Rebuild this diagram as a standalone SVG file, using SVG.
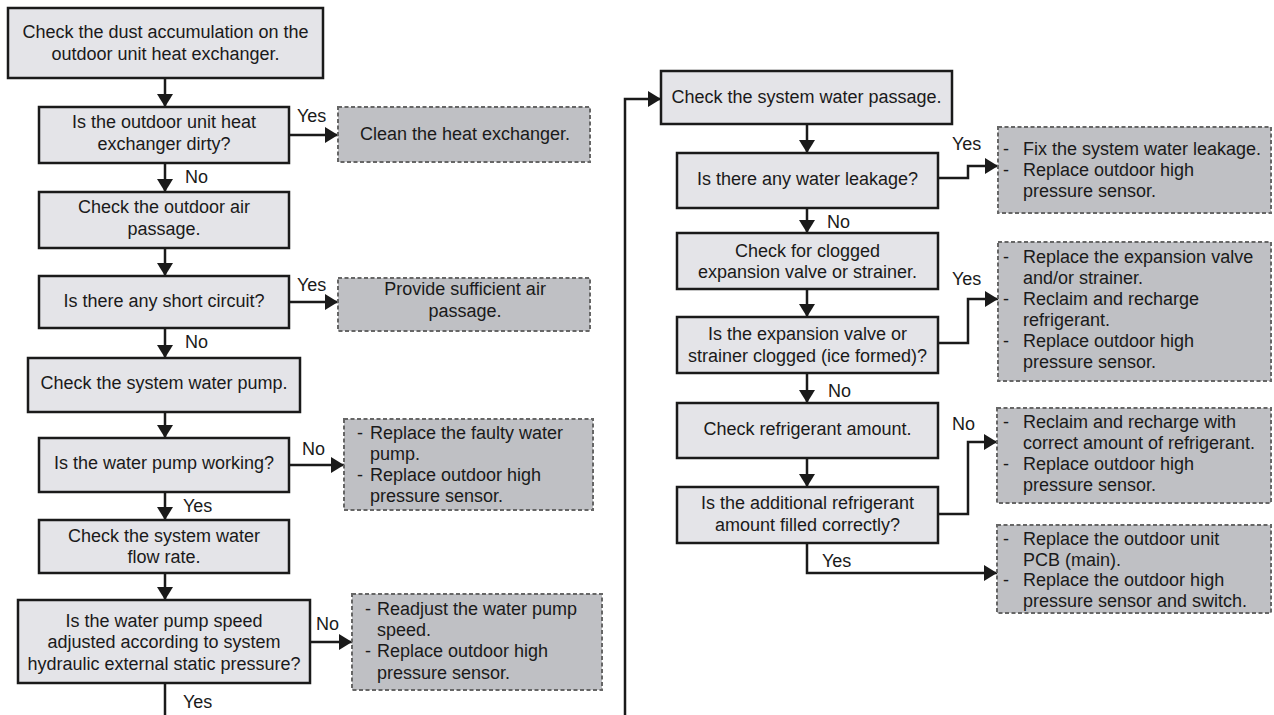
<svg xmlns="http://www.w3.org/2000/svg" width="1274" height="715" viewBox="0 0 1274 715">
<style>
  text { font-family: "Liberation Sans", Arial, sans-serif; font-size: 18px; fill: #1a1a1a; }
  .c { text-anchor: middle; }
  .box { fill: #e4e4e8; stroke: #1a1a1a; stroke-width: 2.5; }
  .out { fill: #bfc0c4; stroke: #666; stroke-width: 2; stroke-dasharray: 4 2.5; }
  .ln { fill: none; stroke: #1a1a1a; stroke-width: 2.5; marker-end: url(#ah); }
  .ln0 { fill: none; stroke: #1a1a1a; stroke-width: 2.5; }
</style>
<defs>
  <marker id="ah" markerUnits="userSpaceOnUse" markerWidth="14" markerHeight="16" refX="13" refY="8" orient="auto">
    <path d="M0,0 L13,8 L0,16 z" fill="#1a1a1a"/>
  </marker>
</defs>
<rect width="1274" height="715" fill="#fff"/>

<g id="connectors">
  <path class="ln" d="M165,78 V107"/>
  <path class="ln" d="M289,135 H338"/>
  <path class="ln" d="M165,163 V192"/>
  <path class="ln" d="M165,248 V276"/>
  <path class="ln" d="M289,302 H338"/>
  <path class="ln" d="M165,328 V358"/>
  <path class="ln" d="M165,412 V438"/>
  <path class="ln" d="M289,465 H344"/>
  <path class="ln" d="M165,492 V520"/>
  <path class="ln" d="M165,573 V600"/>
  <path class="ln" d="M310,642 H352"/>
  <path class="ln0" d="M165,683 V715"/>
  <path class="ln" d="M625,715 V99 H661"/>
  <path class="ln" d="M807,124 V153"/>
  <path class="ln" d="M938,178 H968 V166 H998"/>
  <path class="ln" d="M807,208 V233"/>
  <path class="ln" d="M807,289 V317"/>
  <path class="ln" d="M938,343 H968 V299 H998"/>
  <path class="ln" d="M807,373 V403"/>
  <path class="ln" d="M807,458 V487"/>
  <path class="ln" d="M938,514 H968 V442 H997"/>
  <path class="ln" d="M807,543 V573 H997"/>
  <text x="297" y="122">Yes</text>
  <text x="185" y="183">No</text>
  <text x="297" y="291">Yes</text>
  <text x="185" y="348">No</text>
  <text x="302" y="455">No</text>
  <text x="183" y="512">Yes</text>
  <text x="316" y="630">No</text>
  <text x="183" y="708">Yes</text>
  <text x="952" y="150">Yes</text>
  <text x="827" y="228">No</text>
  <text x="952" y="285">Yes</text>
  <text x="828" y="397">No</text>
  <text x="952" y="430">No</text>
  <text x="822" y="567">Yes</text>
</g>

<g id="L1"><rect class="box" x="8" y="8" width="315" height="70"/>
  <text class="c" x="165.5" y="38">Check the dust accumulation on the</text>
  <text class="c" x="165.5" y="60">outdoor unit heat exchanger.</text></g>
<g id="L2"><rect class="box" x="39" y="107" width="250" height="56"/>
  <text class="c" x="164" y="128">Is the outdoor unit heat</text>
  <text class="c" x="164" y="150">exchanger dirty?</text></g>
<g id="L3"><rect class="box" x="39" y="192" width="250" height="56"/>
  <text class="c" x="164" y="213">Check the outdoor air</text>
  <text class="c" x="164" y="235">passage.</text></g>
<g id="L4"><rect class="box" x="39" y="276" width="250" height="52"/>
  <text class="c" x="164" y="307">Is there any short circuit?</text></g>
<g id="L5"><rect class="box" x="28" y="358" width="272" height="54"/>
  <text class="c" x="164" y="389">Check the system water pump.</text></g>
<g id="L6"><rect class="box" x="39" y="438" width="250" height="54"/>
  <text class="c" x="164" y="469">Is the water pump working?</text></g>
<g id="L7"><rect class="box" x="39" y="520" width="250" height="53"/>
  <text class="c" x="164" y="542">Check the system water</text>
  <text class="c" x="164" y="563">flow rate.</text></g>
<g id="L8"><rect class="box" x="18" y="600" width="292" height="83"/>
  <text class="c" x="164" y="627">Is the water pump speed</text>
  <text class="c" x="164" y="648">adjusted according to system</text>
  <text class="c" x="164" y="670">hydraulic external static pressure?</text></g>

<g id="O1"><rect class="out" x="338" y="107" width="252" height="55"/>
  <text class="c" x="465" y="140">Clean the heat exchanger.</text></g>
<g id="O2"><rect class="out" x="338" y="278" width="252" height="53"/>
  <text class="c" x="465" y="295">Provide sufficient air</text>
  <text class="c" x="465" y="317">passage.</text></g>
<g id="O3"><rect class="out" x="344" y="419" width="249" height="91"/>
  <text x="357" y="439">-</text><text x="370" y="439">Replace the faulty water</text>
  <text x="370" y="460">pump.</text>
  <text x="357" y="481">-</text><text x="370" y="481">Replace outdoor high</text>
  <text x="370" y="502">pressure sensor.</text></g>
<g id="O4"><rect class="out" x="352" y="594" width="250" height="96"/>
  <text x="365" y="615">-</text><text x="377" y="615">Readjust the water pump</text>
  <text x="377" y="636">speed.</text>
  <text x="365" y="657">-</text><text x="377" y="657">Replace outdoor high</text>
  <text x="377" y="679">pressure sensor.</text></g>

<g id="R1"><rect class="box" x="661" y="71" width="291" height="53"/>
  <text class="c" x="806.5" y="103">Check the system water passage.</text></g>
<g id="R2"><rect class="box" x="677" y="153" width="261" height="55"/>
  <text class="c" x="807.5" y="185">Is there any water leakage?</text></g>
<g id="R3"><rect class="box" x="677" y="233" width="261" height="56"/>
  <text class="c" x="807.5" y="257">Check for clogged</text>
  <text class="c" x="807.5" y="278">expansion valve or strainer.</text></g>
<g id="R4"><rect class="box" x="677" y="317" width="261" height="56"/>
  <text class="c" x="807.5" y="340">Is the expansion valve or</text>
  <text class="c" x="807.5" y="362">strainer clogged (ice formed)?</text></g>
<g id="R5"><rect class="box" x="677" y="403" width="261" height="55"/>
  <text class="c" x="807.5" y="435">Check refrigerant amount.</text></g>
<g id="R6"><rect class="box" x="677" y="487" width="261" height="56"/>
  <text class="c" x="807.5" y="509">Is the additional refrigerant</text>
  <text class="c" x="807.5" y="531">amount filled correctly?</text></g>

<g id="P1"><rect class="out" x="998" y="127" width="273" height="86"/>
  <text x="1003" y="155">-</text><text x="1023" y="155">Fix the system water leakage.</text>
  <text x="1003" y="176">-</text><text x="1023" y="176">Replace outdoor high</text>
  <text x="1023" y="197">pressure sensor.</text></g>
<g id="P2"><rect class="out" x="998" y="242" width="273" height="139"/>
  <text x="1003" y="263">-</text><text x="1023" y="263">Replace the expansion valve</text>
  <text x="1023" y="284">and/or strainer.</text>
  <text x="1003" y="305">-</text><text x="1023" y="305">Reclaim and recharge</text>
  <text x="1023" y="326">refrigerant.</text>
  <text x="1003" y="347">-</text><text x="1023" y="347">Replace outdoor high</text>
  <text x="1023" y="368">pressure sensor.</text></g>
<g id="P3"><rect class="out" x="997" y="408" width="274" height="95"/>
  <text x="1003" y="428">-</text><text x="1023" y="428">Reclaim and recharge with</text>
  <text x="1023" y="449">correct amount of refrigerant.</text>
  <text x="1003" y="470">-</text><text x="1023" y="470">Replace outdoor high</text>
  <text x="1023" y="491">pressure sensor.</text></g>
<g id="P4"><rect class="out" x="997" y="525" width="274" height="88"/>
  <text x="1003" y="545">-</text><text x="1023" y="545">Replace the outdoor unit</text>
  <text x="1023" y="566">PCB (main).</text>
  <text x="1003" y="586">-</text><text x="1023" y="586">Replace the outdoor high</text>
  <text x="1023" y="607">pressure sensor and switch.</text></g>
</svg>
